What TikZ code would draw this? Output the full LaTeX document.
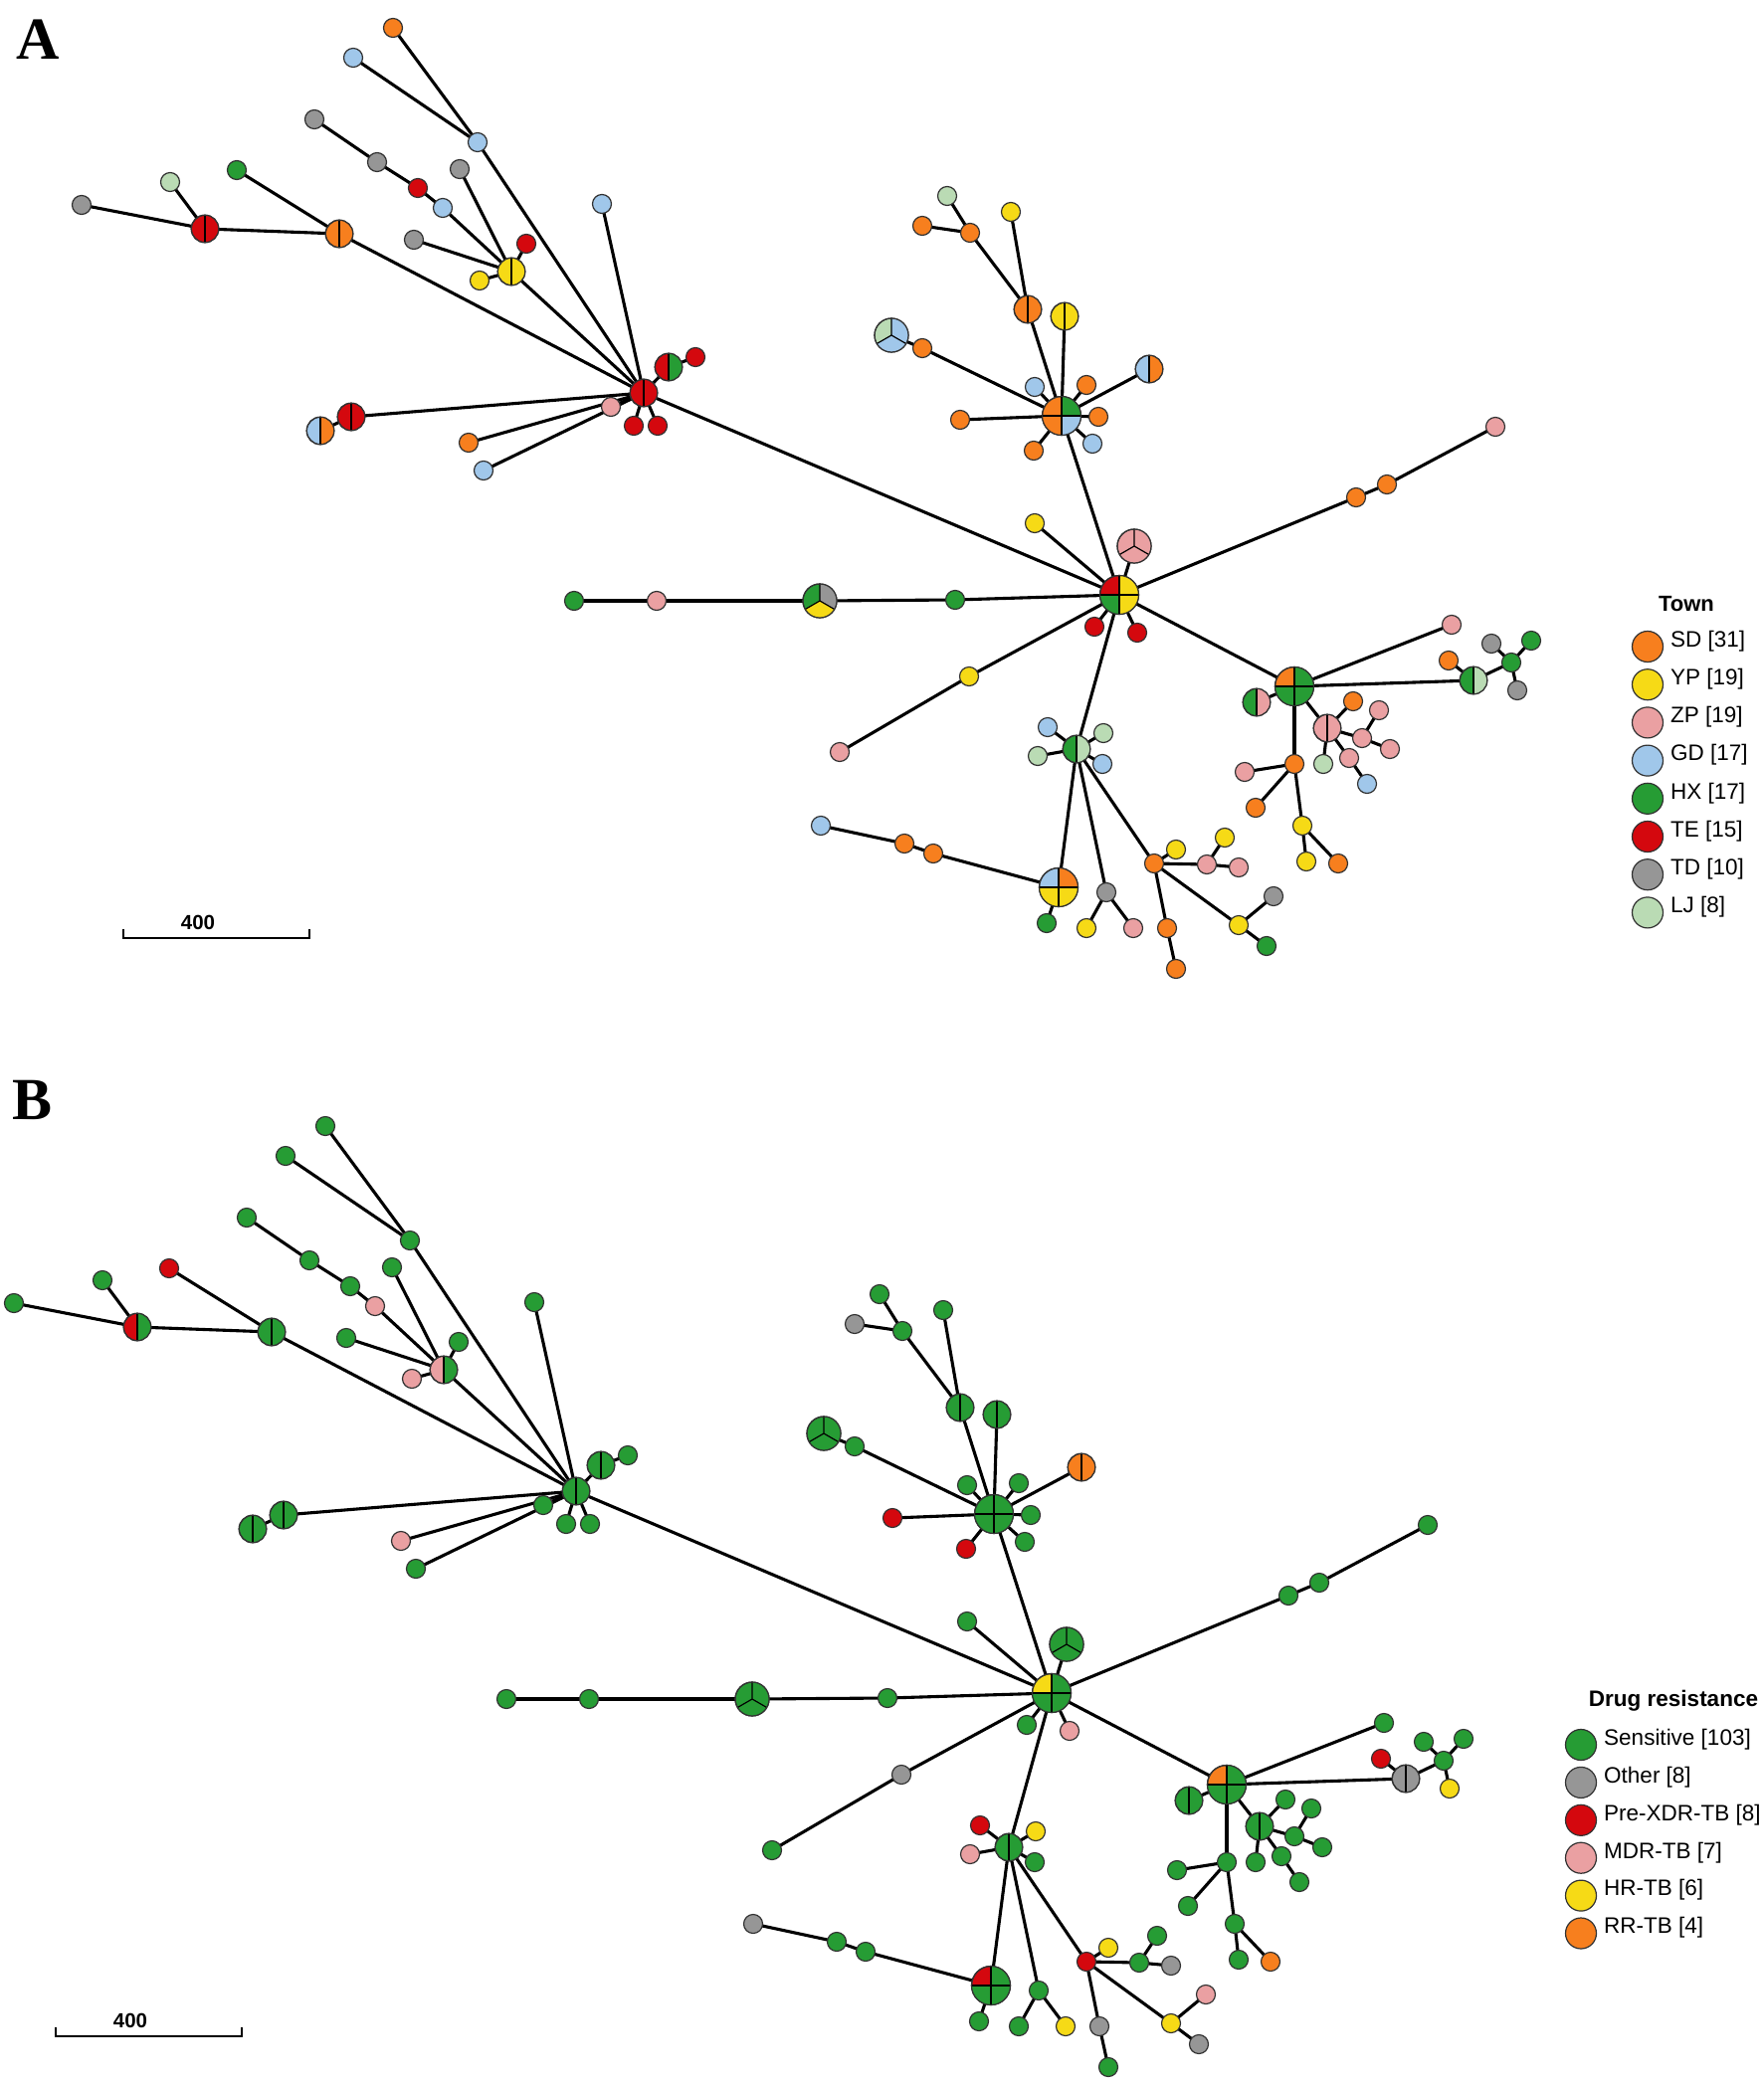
\documentclass[tikz,border=0pt]{standalone}
\usepackage{fontspec}
\setmainfont{Liberation Sans}
\newfontfamily\panelfont{Liberation Serif}
\definecolor{cOr}{RGB}{247,127,30}
\definecolor{cYe}{RGB}{246,218,22}
\definecolor{cPk}{RGB}{234,160,162}
\definecolor{cBl}{RGB}{160,199,234}
\definecolor{cGr}{RGB}{38,156,52}
\definecolor{cRd}{RGB}{212,8,14}
\definecolor{cGy}{RGB}{150,150,150}
\definecolor{cLj}{RGB}{186,219,180}
\definecolor{cRim}{RGB}{50,50,50}
\def\ra{9.5pt}\def\rb{13.75pt}\def\rc{17pt}\def\rd{19.5pt}
\tikzset{
 edge/.style={line width=3.1pt,black},
 disk/.style={circle,draw=cRim,line width=1.2pt,inner sep=0pt,outer sep=0pt},
 spoke/.style={line width=1.2pt,black},
 rim/.style={line width=1.2pt,draw=cRim},
 keydisk/.style={circle,draw=cRim,line width=1.2pt,inner sep=0pt,minimum size=31pt},
 keytext/.style={anchor=west,inner sep=0pt,font=\fontsize{22.5}{27}\selectfont},
 keytitle/.style={inner sep=0pt,font=\fontsize{22}{26}\selectfont\bfseries},
 bar/.style={line width=2.8pt,black},
 barlabel/.style={inner sep=0pt,font=\fontsize{20.5}{24}\selectfont\bfseries},
 panel/.style={inner sep=0pt,font=\fontsize{60}{70}\selectfont\panelfont\bfseries},
}
\newcommand\setpt[3]{\coordinate (\pfx-#1) at (#2,#3);}
\newcommand\edg[2]{\draw[edge] (\pfx-#1) -- (\pfx-#2);}
\newcommand\sectr[5]{\fill[#5] (#1) -- ++(#3:#2) arc[start angle=#3,end angle=#4,radius=#2] -- cycle;}
\newcommand\nOne[2]{\node[disk,minimum size=2*\ra,fill=#2] (\pfx-n-#1) at (\pfx-#1) {};}
\newcommand\nTwo[3]{%
 \node[disk,minimum size=2*\rb,fill=#2] (\pfx-n-#1) at (\pfx-#1) {};
 \sectr{\pfx-#1}{\rb}{-90}{90}{#3}
 \draw[spoke] (\pfx-#1) -- ++(90:\rb) (\pfx-#1) -- ++(-90:\rb);
 \draw[rim] (\pfx-#1) circle[radius=\rb];}
\newcommand\nThree[4]{%
 \node[disk,minimum size=2*\rc,fill=#2] (\pfx-n-#1) at (\pfx-#1) {};
 \sectr{\pfx-#1}{\rc}{-30}{90}{#3}
 \sectr{\pfx-#1}{\rc}{210}{330}{#4}
 \draw[spoke] (\pfx-#1) -- ++(90:\rc) (\pfx-#1) -- ++(210:\rc) (\pfx-#1) -- ++(330:\rc);
 \draw[rim] (\pfx-#1) circle[radius=\rc];}
\newcommand\nFour[5]{%
 \node[disk,minimum size=2*\rd,fill=#2] (\pfx-n-#1) at (\pfx-#1) {};
 \sectr{\pfx-#1}{\rd}{0}{90}{#3}
 \sectr{\pfx-#1}{\rd}{180}{270}{#4}
 \sectr{\pfx-#1}{\rd}{270}{360}{#5}
 \draw[spoke] (\pfx-#1) -- ++(0:\rd) (\pfx-#1) -- ++(90:\rd) (\pfx-#1) -- ++(180:\rd) (\pfx-#1) -- ++(270:\rd);
 \draw[rim] (\pfx-#1) circle[radius=\rd];}
\newcommand\positions{%
\setpt{a}{395}{28}\setpt{b}{355}{58}\setpt{c}{480}{143}\setpt{d}{316}{120}
\setpt{e}{379}{163}\setpt{f}{420}{189}\setpt{g}{445}{209}\setpt{h}{462}{170}
\setpt{i}{416}{241}\setpt{j}{529}{245}\setpt{k}{514}{273}\setpt{l}{482}{282}
\setpt{m}{605}{205}\setpt{n}{238}{171}\setpt{o}{171}{183}\setpt{p}{82}{206}
\setpt{q}{206}{230}\setpt{r}{341}{235}\setpt{s}{647}{395}\setpt{t}{672}{369}
\setpt{u}{699}{359}\setpt{v}{614}{409}\setpt{w}{637}{428}\setpt{x}{661}{428}
\setpt{y}{353}{419}\setpt{z}{322}{433}\setpt{aa}{471}{445}\setpt{ab}{486}{473}
\setpt{ma}{577}{604}\setpt{mb}{660}{604}\setpt{mc}{824}{604}\setpt{md}{960}{603}
\setpt{H}{1125}{598}
\setpt{ca}{952}{197}\setpt{cb}{1016}{213}\setpt{cc}{927}{227}\setpt{cd}{975}{234}
\setpt{ce}{1033}{311}\setpt{cf}{1070}{318}\setpt{cg}{896}{337}\setpt{ch}{927}{350}
\setpt{ci}{1155}{371}\setpt{cj}{1040}{389}\setpt{ck}{1092}{387}\setpt{C}{1067}{418}
\setpt{cl}{965}{422}\setpt{cm}{1104}{419}\setpt{cn}{1039}{453}\setpt{co}{1098}{446}
\setpt{ra}{1503}{429}\setpt{rb}{1394}{487}\setpt{rc}{1363}{500}
\setpt{ha}{1040}{526}\setpt{hb}{1140}{549}\setpt{hc}{1100}{630}\setpt{hd}{1143}{636}
\setpt{he}{974}{680}\setpt{hf}{844}{756}
\setpt{R}{1301}{690}\setpt{rd}{1263}{706}\setpt{re}{1334}{732}\setpt{rf}{1360}{705}
\setpt{rg}{1369}{742}\setpt{rh}{1386}{714}\setpt{ri}{1397}{753}\setpt{rj}{1330}{768}
\setpt{rk}{1356}{762}\setpt{rl}{1374}{788}\setpt{rm}{1301}{768}\setpt{rn}{1251}{776}
\setpt{ro}{1262}{812}\setpt{rp}{1309}{830}\setpt{rq}{1313}{866}\setpt{rr}{1345}{868}
\setpt{fa}{1459}{628}\setpt{fb}{1456}{664}\setpt{fc}{1481}{684}\setpt{fd}{1519}{666}
\setpt{fe}{1499}{647}\setpt{ff}{1539}{644}\setpt{fg}{1525}{694}
\setpt{L}{1082}{753}\setpt{la}{1053}{731}\setpt{lb}{1109}{737}\setpt{lc}{1043}{760}
\setpt{ld}{1108}{768}\setpt{Q}{1064}{892}\setpt{le}{1052}{928}\setpt{lf}{938}{858}
\setpt{lg}{909}{848}\setpt{lh}{825}{830}\setpt{li}{1112}{897}\setpt{lj}{1092}{933}
\setpt{lk}{1139}{933}\setpt{O}{1160}{868}\setpt{lm}{1182}{854}\setpt{ln}{1213}{869}
\setpt{lo}{1231}{842}\setpt{lp}{1245}{872}\setpt{lq}{1173}{933}\setpt{lr}{1182}{974}
\setpt{ls}{1245}{930}\setpt{lt}{1280}{901}\setpt{lu}{1273}{951}
}
\newcommand\edges{%
\edg{p}{q}\edg{o}{q}\edg{q}{r}\edg{n}{r}\edg{r}{s}\edg{a}{c}\edg{b}{c}\edg{c}{s}
\edg{d}{e}\edg{e}{f}\edg{f}{g}\edg{g}{k}\edg{h}{k}\edg{i}{k}\edg{j}{k}\edg{l}{k}
\edg{k}{s}\edg{m}{s}\edg{y}{s}\edg{z}{y}\edg{aa}{s}\edg{ab}{s}\edg{v}{s}\edg{t}{s}
\edg{u}{t}\edg{w}{s}\edg{x}{s}\edg{s}{H}
\edg{ma}{mb}\edg{mb}{mc}\edg{mc}{md}\edg{md}{H}
\edg{ca}{cd}\edg{cc}{cd}\edg{cd}{ce}\edg{cb}{ce}\edg{ce}{C}\edg{cf}{C}\edg{cg}{ch}
\edg{ch}{C}\edg{ci}{C}\edg{cj}{C}\edg{ck}{C}\edg{cl}{C}\edg{cm}{C}\edg{cn}{C}\edg{co}{C}\edg{C}{H}
\edg{ra}{rb}\edg{rb}{rc}\edg{rc}{H}
\edg{ha}{H}\edg{hb}{H}\edg{hc}{H}\edg{hd}{H}\edg{hf}{he}\edg{he}{H}
\edg{H}{R}\edg{R}{rd}\edg{R}{re}\edg{R}{rm}\edg{re}{rf}\edg{re}{rg}\edg{rg}{rh}\edg{rg}{ri}
\edg{re}{rj}\edg{re}{rk}\edg{rk}{rl}\edg{rm}{rn}\edg{rm}{ro}\edg{rm}{rp}\edg{rp}{rq}\edg{rp}{rr}
\edg{R}{fa}\edg{R}{fc}\edg{fb}{fc}\edg{fc}{fd}\edg{fd}{fe}\edg{fd}{ff}\edg{fd}{fg}
\edg{H}{L}\edg{L}{la}\edg{L}{lb}\edg{L}{lc}\edg{L}{ld}\edg{L}{Q}\edg{L}{li}\edg{L}{O}
\edg{Q}{le}\edg{Q}{lf}\edg{lf}{lg}\edg{lg}{lh}\edg{li}{lj}\edg{li}{lk}\edg{O}{lm}\edg{O}{ln}
\edg{ln}{lo}\edg{ln}{lp}\edg{O}{lq}\edg{lq}{lr}\edg{O}{ls}\edg{ls}{lt}\edg{ls}{lu}
}
\begin{document}
\begin{tikzpicture}[x=1pt,y=-1pt]
\useasboundingbox[fill=white] (0,0) rectangle (1772,2095);
\def\pfx{A}\positions
\begin{scope}[shift={(-68,1104)}]\def\pfx{B}\positions\end{scope}
\def\pfx{A}\edges
\def\pfx{B}\edges
% ---------- panel A nodes ----------
\def\pfx{A}
\nOne{a}{cOr}\nOne{b}{cBl}\nOne{c}{cBl}\nOne{d}{cGy}\nOne{e}{cGy}\nOne{f}{cRd}
\nOne{g}{cBl}\nOne{h}{cGy}\nOne{i}{cGy}\nOne{j}{cRd}\nTwo{k}{cYe}{cYe}\nOne{l}{cYe}
\nOne{m}{cBl}\nOne{n}{cGr}\nOne{o}{cLj}\nOne{p}{cGy}\nTwo{q}{cRd}{cRd}\nTwo{r}{cOr}{cOr}
\nTwo{t}{cRd}{cGr}\nOne{u}{cRd}\nOne{v}{cPk}\nOne{w}{cRd}\nOne{x}{cRd}\nTwo{s}{cRd}{cRd}
\nTwo{y}{cRd}{cRd}\nTwo{z}{cBl}{cOr}\nOne{aa}{cOr}\nOne{ab}{cBl}
\nOne{ma}{cGr}\nOne{mb}{cPk}\nThree{mc}{cGr}{cGy}{cYe}\nOne{md}{cGr}
\nFour{H}{cRd}{cYe}{cGr}{cYe}
\nOne{ca}{cLj}\nOne{cb}{cYe}\nOne{cc}{cOr}\nOne{cd}{cOr}\nTwo{ce}{cOr}{cOr}\nTwo{cf}{cYe}{cYe}
\nThree{cg}{cLj}{cBl}{cBl}\nOne{ch}{cOr}\nTwo{ci}{cBl}{cOr}\nOne{cj}{cBl}\nOne{ck}{cOr}
\nOne{cl}{cOr}\nOne{cm}{cOr}\nOne{cn}{cOr}\nOne{co}{cBl}\nFour{C}{cOr}{cGr}{cOr}{cBl}
\nOne{ra}{cPk}\nOne{rb}{cOr}\nOne{rc}{cOr}
\nOne{ha}{cYe}\nThree{hb}{cPk}{cPk}{cPk}\nOne{hc}{cRd}\nOne{hd}{cRd}\nOne{he}{cYe}\nOne{hf}{cPk}
\nTwo{rd}{cGr}{cPk}\nFour{R}{cOr}{cGr}{cGr}{cGr}\nOne{rf}{cOr}\nOne{rg}{cPk}\nOne{rh}{cPk}
\nOne{ri}{cPk}\nOne{rj}{cLj}\nOne{rk}{cPk}\nOne{rl}{cBl}\nTwo{re}{cPk}{cPk}\nOne{rm}{cOr}
\nOne{rn}{cPk}\nOne{ro}{cOr}\nOne{rp}{cYe}\nOne{rq}{cYe}\nOne{rr}{cOr}
\nOne{fa}{cPk}\nOne{fb}{cOr}\nTwo{fc}{cGr}{cLj}\nOne{fd}{cGr}\nOne{fe}{cGy}\nOne{ff}{cGr}\nOne{fg}{cGy}
\nOne{la}{cBl}\nOne{lb}{cLj}\nOne{lc}{cLj}\nOne{ld}{cBl}\nTwo{L}{cGr}{cLj}
\nFour{Q}{cBl}{cOr}{cYe}{cYe}\nOne{le}{cGr}\nOne{lf}{cOr}\nOne{lg}{cOr}\nOne{lh}{cBl}
\nOne{li}{cGy}\nOne{lj}{cYe}\nOne{lk}{cPk}\nOne{O}{cOr}\nOne{lm}{cYe}\nOne{ln}{cPk}
\nOne{lo}{cYe}\nOne{lp}{cPk}\nOne{lq}{cOr}\nOne{lr}{cOr}\nOne{ls}{cYe}\nOne{lt}{cGy}\nOne{lu}{cGr}
% ---------- panel B nodes ----------
\def\pfx{B}
\nOne{a}{cGr}\nOne{b}{cGr}\nOne{c}{cGr}\nOne{d}{cGr}\nOne{e}{cGr}\nOne{f}{cGr}
\nOne{g}{cPk}\nOne{h}{cGr}\nOne{i}{cGr}\nOne{j}{cGr}\nTwo{k}{cPk}{cGr}\nOne{l}{cPk}
\nOne{m}{cGr}\nOne{n}{cRd}\nOne{o}{cGr}\nOne{p}{cGr}\nTwo{q}{cRd}{cGr}\nTwo{r}{cGr}{cGr}
\nTwo{t}{cGr}{cGr}\nOne{u}{cGr}\nOne{v}{cGr}\nOne{w}{cGr}\nOne{x}{cGr}\nTwo{s}{cGr}{cGr}
\nTwo{y}{cGr}{cGr}\nTwo{z}{cGr}{cGr}\nOne{aa}{cPk}\nOne{ab}{cGr}
\nOne{ma}{cGr}\nOne{mb}{cGr}\nThree{mc}{cGr}{cGr}{cGr}\nOne{md}{cGr}
\nFour{H}{cYe}{cGr}{cGr}{cGr}
\nOne{ca}{cGr}\nOne{cb}{cGr}\nOne{cc}{cGy}\nOne{cd}{cGr}\nTwo{ce}{cGr}{cGr}\nTwo{cf}{cGr}{cGr}
\nThree{cg}{cGr}{cGr}{cGr}\nOne{ch}{cGr}\nTwo{ci}{cOr}{cOr}\nOne{cj}{cGr}\nOne{ck}{cGr}
\nOne{cl}{cRd}\nOne{cm}{cGr}\nOne{cn}{cRd}\nOne{co}{cGr}\nFour{C}{cGr}{cGr}{cGr}{cGr}
\nOne{ra}{cGr}\nOne{rb}{cGr}\nOne{rc}{cGr}
\nOne{ha}{cGr}\nThree{hb}{cGr}{cGr}{cGr}\nOne{hc}{cGr}\nOne{hd}{cPk}\nOne{he}{cGy}\nOne{hf}{cGr}
\nTwo{rd}{cGr}{cGr}\nFour{R}{cOr}{cGr}{cGr}{cGr}\nOne{rf}{cGr}\nOne{rg}{cGr}\nOne{rh}{cGr}
\nOne{ri}{cGr}\nOne{rj}{cGr}\nOne{rk}{cGr}\nOne{rl}{cGr}\nTwo{re}{cGr}{cGr}\nOne{rm}{cGr}
\nOne{rn}{cGr}\nOne{ro}{cGr}\nOne{rp}{cGr}\nOne{rq}{cGr}\nOne{rr}{cOr}
\nOne{fa}{cGr}\nOne{fb}{cRd}\nTwo{fc}{cGy}{cGy}\nOne{fd}{cGr}\nOne{fe}{cGr}\nOne{ff}{cGr}\nOne{fg}{cYe}
\nOne{la}{cRd}\nOne{lb}{cYe}\nOne{lc}{cPk}\nOne{ld}{cGr}\nTwo{L}{cGr}{cGr}
\nFour{Q}{cRd}{cGr}{cGr}{cGr}\nOne{le}{cGr}\nOne{lf}{cGr}\nOne{lg}{cGr}\nOne{lh}{cGy}
\nOne{li}{cGr}\nOne{lj}{cGr}\nOne{lk}{cYe}\nOne{O}{cRd}\nOne{lm}{cYe}\nOne{ln}{cGr}
\nOne{lo}{cGr}\nOne{lp}{cGy}\nOne{lq}{cGy}\nOne{lr}{cGr}\nOne{ls}{cYe}\nOne{lt}{cPk}\nOne{lu}{cGy}
% ---------- panel labels ----------
\node[panel] (labA) at (38,40) {A};
\node[panel] (labB) at (33,1106) {B};
% ---------- scale bars ----------
\draw[bar] (124,934) -- (124,943) -- (311,943) -- (311,934);
\node[barlabel] (sbA) at (199,927) {400};
\draw[bar] (56,2038) -- (56,2047) -- (243,2047) -- (243,2038);
\node[barlabel] (sbB) at (131,2031) {400};
% ---------- legend A ----------
\node[keytitle] (tA) at (1695,607) {Town};
\node[keydisk,fill=cOr] (kA1) at (1656,650) {}; \node[keytext] (tA1) at (1679,644.5) {SD [31]};
\node[keydisk,fill=cYe] (kA2) at (1656,688.2) {}; \node[keytext] (tA2) at (1679,682.7) {YP [19]};
\node[keydisk,fill=cPk] (kA3) at (1656,726.4) {}; \node[keytext] (tA3) at (1679,720.9) {ZP [19]};
\node[keydisk,fill=cBl] (kA4) at (1656,764.6) {}; \node[keytext] (tA4) at (1679,759.1) {GD [17]};
\node[keydisk,fill=cGr] (kA5) at (1656,802.8) {}; \node[keytext] (tA5) at (1679,797.3) {HX [17]};
\node[keydisk,fill=cRd] (kA6) at (1656,841) {}; \node[keytext] (tA6) at (1679,835.5) {TE [15]};
\node[keydisk,fill=cGy] (kA7) at (1656,879.2) {}; \node[keytext] (tA7) at (1679,873.7) {TD [10]};
\node[keydisk,fill=cLj] (kA8) at (1656,917.4) {}; \node[keytext] (tA8) at (1679,911.9) {LJ [8]};
% ---------- legend B ----------
\node[keytitle,font=\fontsize{22.5}{27}\selectfont\bfseries] (tB) at (1682,1710) {Drug resistance};
\node[keydisk,fill=cGr] (kB1) at (1589,1754) {}; \node[keytext] (tB1) at (1612,1748.5) {Sensitive [103]};
\node[keydisk,fill=cGy] (kB2) at (1589,1791.9) {}; \node[keytext] (tB2) at (1612,1786.4) {Other [8]};
\node[keydisk,fill=cRd] (kB3) at (1589,1829.8) {}; \node[keytext] (tB3) at (1612,1824.3) {Pre-XDR-TB [8]};
\node[keydisk,fill=cPk] (kB4) at (1589,1867.7) {}; \node[keytext] (tB4) at (1612,1862.2) {MDR-TB [7]};
\node[keydisk,fill=cYe] (kB5) at (1589,1905.6) {}; \node[keytext] (tB5) at (1612,1900.1) {HR-TB [6]};
\node[keydisk,fill=cOr] (kB6) at (1589,1943.5) {}; \node[keytext] (tB6) at (1612,1938) {RR-TB [4]};
\end{tikzpicture}
\end{document}
